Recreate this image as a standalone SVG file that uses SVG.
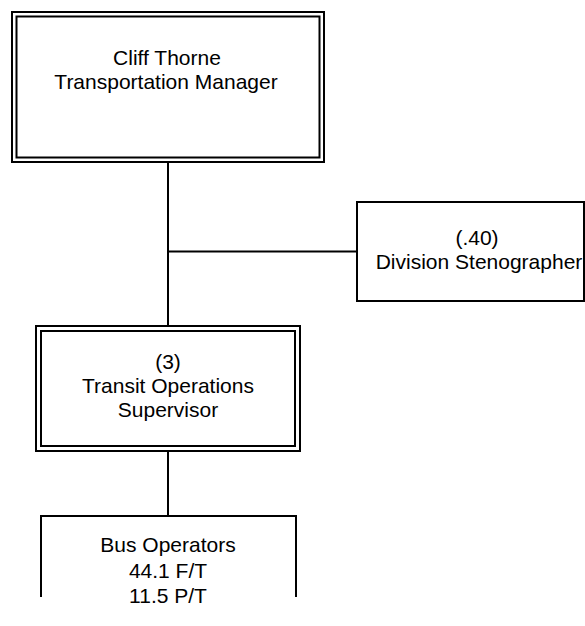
<svg xmlns="http://www.w3.org/2000/svg" width="585" height="626" viewBox="0 0 585 626">
<style>
.b{fill:none;stroke:#000;stroke-width:2}
.c{fill:none;stroke:#000;stroke-width:2}
text{font-family:"Liberation Sans",Arial,sans-serif;font-size:21px;fill:#000;text-anchor:middle}
</style>
<rect width="585" height="626" fill="#fff"/>
<g id="connectors">
<line class="c" x1="168" y1="162" x2="168" y2="326"/>
<line class="c" x1="168" y1="251.5" x2="357" y2="251.5"/>
<line class="c" x1="168" y1="451" x2="168" y2="516"/>
</g>
<g id="manager">
<rect class="b" x="12" y="12" width="312" height="150"/>
<rect class="b" x="16.5" y="16.5" width="303" height="141"/>
<text x="167" y="65">Cliff Thorne</text>
<text x="166" y="89">Transportation Manager</text>
</g>
<g id="stenographer">
<rect class="b" x="357" y="202" width="227" height="99"/>
<text x="477" y="245">(.40)</text>
<text x="479" y="269">Division Stenographer</text>
</g>
<g id="supervisor">
<rect class="b" x="36" y="326" width="264" height="125"/>
<rect class="b" x="41" y="331" width="254" height="115"/>
<text x="168" y="369">(3)</text>
<text x="168" y="393">Transit Operations</text>
<text x="168" y="417">Supervisor</text>
</g>
<g id="operators">
<path class="b" d="M41,597 V516 H296 V597"/>
<text x="168" y="552">Bus Operators</text>
<text x="168" y="578">44.1 F/T</text>
<text x="168" y="603">11.5 P/T</text>
</g>
</svg>
